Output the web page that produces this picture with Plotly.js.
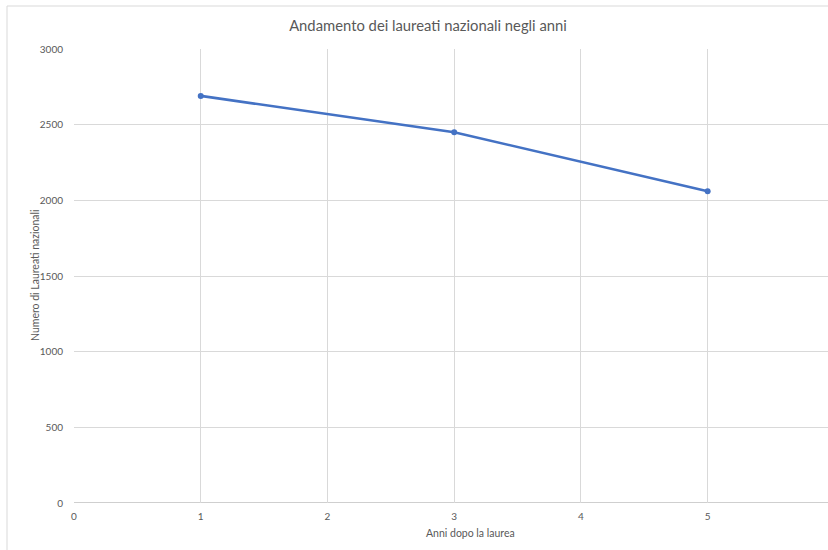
<!DOCTYPE html>
<html>
<head>
<meta charset="utf-8">
<script src="https://cdn.plot.ly/plotly-3.0.1.min.js"></script>
<style>
html, body { margin: 0; padding: 0; overflow: hidden; background: #fff; }
#chart { width: 880px; height: 560px; }
</style>
</head>
<body>
<div id="chart"></div>
<script>
const years = [1, 3, 5];
const graduates = [2690, 2450, 2060];
const yTicks = [0, 500, 1000, 1500, 2000, 2500, 3000];
const xTicks = [0, 1, 2, 3, 4, 5];

const chartTitle = 'Andamento dei laureati nazionali negli anni';
const xTitle = 'Anni dopo la laurea';
const yTitle = 'Numero di Laureati nazionali';

const fontFam = 'Lato, "Open Sans", sans-serif';
const grey = '#595959';

const trace = {
  x: years,
  y: graduates,
  type: 'scatter',
  mode: 'lines+markers',
  line: { color: '#4472c4', width: 2.6 },
  marker: { color: '#4472c4', size: 6 },
  hoverinfo: 'x+y'
};

const layout = {
  width: 880,
  height: 560,
  margin: { l: 74, r: 0, t: 49, b: 57 },
  paper_bgcolor: '#ffffff',
  plot_bgcolor: '#ffffff',
  showlegend: false,
  font: { family: fontFam, color: grey },
  title: {
    text: chartTitle,
    x: 428 / 880,
    xanchor: 'center',
    y: 1 - 26 / 560,
    yanchor: 'middle',
    font: { family: fontFam, size: 14.8, color: grey }
  },
  xaxis: {
    range: [0, 6.36],
    tickvals: xTicks,
    ticktext: xTicks.map(String),
    showgrid: true,
    gridcolor: '#d9d9d9',
    gridwidth: 1,
    zeroline: false,
    showline: false,
    ticks: '',
    ticklabelstandoff: 6,
    tickfont: { family: fontFam, size: 10, color: grey },
    fixedrange: true
  },
  yaxis: {
    range: [0, 3000],
    tickvals: yTicks,
    ticktext: yTicks.map(String),
    showgrid: true,
    gridcolor: '#d9d9d9',
    gridwidth: 1,
    zeroline: false,
    showline: false,
    ticks: '',
    ticklabelstandoff: 10,
    tickfont: { family: fontFam, size: 10, color: grey },
    fixedrange: true
  },
  shapes: [
    {
      type: 'line', xref: 'paper', yref: 'y',
      x0: 0, x1: 1, y0: 0, y1: 0,
      line: { color: '#bfbfbf', width: 1.3 },
      layer: 'below'
    },
    {
      type: 'rect', xref: 'paper', yref: 'paper',
      x0: -67 / 806, x1: 1.2, y0: -0.3, y1: 1 + 43 / 454,
      line: { color: '#d9d9d9', width: 1 },
      fillcolor: 'rgba(0,0,0,0)',
      layer: 'below'
    }
  ],
  annotations: [
    {
      text: xTitle,
      xref: 'paper', yref: 'paper',
      x: (470 - 74) / 806, y: -(533 - 503) / 454,
      xanchor: 'center', yanchor: 'middle',
      showarrow: false,
      font: { family: fontFam, size: 10.5, color: grey }
    },
    {
      text: yTitle,
      xref: 'paper', yref: 'paper',
      x: -(74 - 35) / 806, y: (503 - 275) / 454,
      xanchor: 'center', yanchor: 'middle',
      textangle: -90,
      showarrow: false,
      font: { family: fontFam, size: 10.5, color: grey }
    }
  ]
};

Plotly.newPlot('chart', [trace], layout, { displayModeBar: false });
</script>
</body>
</html>
